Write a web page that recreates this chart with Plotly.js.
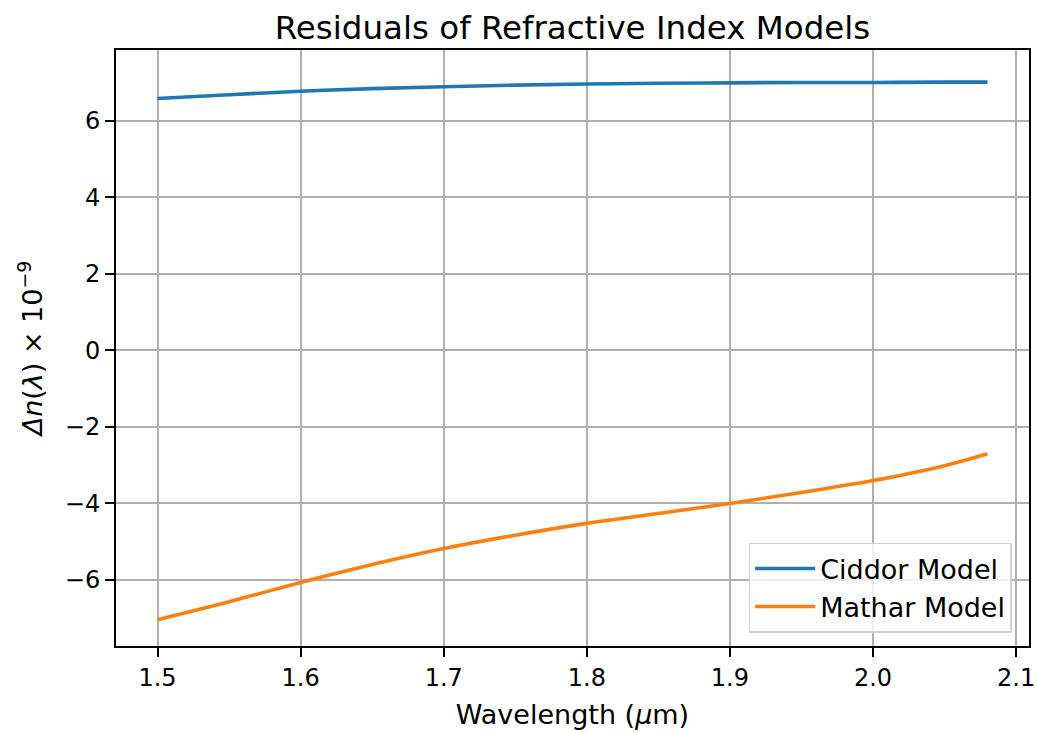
<!DOCTYPE html>
<html>
<head>
<meta charset="utf-8">
<script src="https://cdn.plot.ly/plotly-3.0.1.min.js"></script>
<style>html,body{margin:0;padding:0;background:#fff;}#chart{width:1037px;height:733px;}</style>
</head>
<body>
<div id="chart"></div>
<script>
const wavelength = [1.5, 1.55, 1.6, 1.65, 1.7, 1.75, 1.8, 1.85, 1.9, 1.95, 2.0, 2.05, 2.08];
const ciddor = [6.59, 6.69, 6.78, 6.85, 6.90, 6.94, 6.97, 6.99, 7.00, 7.01, 7.01, 7.02, 7.02];
const mathar = [-7.05, -6.58, -6.08, -5.61, -5.19, -4.84, -4.53, -4.27, -4.01, -3.72, -3.41, -3.02, -2.71];
const seriesNames = ["Ciddor Model", "Mathar Model"];
const xTicks = [1.5, 1.6, 1.7, 1.8, 1.9, 2.0, 2.1];
const yTicks = [-6, -4, -2, 0, 2, 4, 6];

const font = "DejaVu Sans, sans-serif";
const traces = [
  {x: wavelength, y: ciddor, name: seriesNames[0], mode: "lines",
   line: {color: "#1f77b4", width: 3.6, shape: "spline"}},
  {x: wavelength, y: mathar, name: seriesNames[1], mode: "lines",
   line: {color: "#ff7f0e", width: 3.6, shape: "spline"}}
];
const axisCommon = {
  showline: true, linecolor: "#000", linewidth: 2, mirror: true,
  ticks: "outside", ticklen: 9, tickwidth: 2, tickcolor: "#000",
  showgrid: true, gridcolor: "#b0b0b0", gridwidth: 2, zeroline: false,
  tickfont: {family: font, size: 24, color: "#000"}
};
const layout = {
  width: 1037, height: 733,
  margin: {l: 116, r: 8, t: 50, b: 87},
  paper_bgcolor: "#fff", plot_bgcolor: "#fff",
  font: {family: font, color: "#000"},
  title: {text: "Residuals of Refractive Index Models", font: {family: font, size: 32.5, color: "#000"},
          xref: "paper", x: 0.5, xanchor: "center", yref: "container", y: 0.962, yanchor: "middle"},
  xaxis: Object.assign({}, axisCommon, {
    range: [1.471, 2.109], tickvals: xTicks, tickformat: ".1f",
    title: {text: "Wavelength (<i>μ</i>m)", font: {family: font, size: 27, color: "#000"}, standoff: 14}
  }),
  yaxis: Object.assign({}, axisCommon, {
    range: [-7.74, 7.86], tickvals: yTicks,
    title: {text: "<i>Δn</i>(<i>λ</i>) × 10<sup>−9</sup>", font: {family: font, size: 27, color: "#000"}, standoff: 14}
  }),
  showlegend: true,
  legend: {x: 0.981, y: 0.022, xanchor: "right", yanchor: "bottom",
           bgcolor: "rgba(255,255,255,0.8)", bordercolor: "#d0d0d0", borderwidth: 1.5,
           font: {family: font, size: 27, color: "#000"}, itemwidth: 60, tracegroupgap: 4}
};
Plotly.newPlot("chart", traces, layout, {displayModeBar: false, staticPlot: true});
</script>
</body>
</html>
